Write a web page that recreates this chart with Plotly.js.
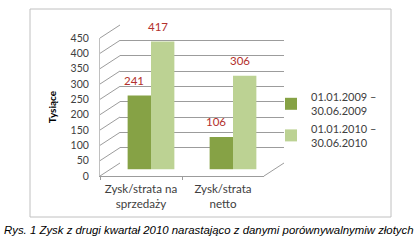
<!DOCTYPE html>
<html>
<head>
<meta charset="utf-8">
<script src="https://cdn.plot.ly/plotly-3.0.1.min.js"></script>
<style>html,body{margin:0;padding:0;background:#fff}#chart{width:418px;height:245px}</style>
</head>
<body>
<div id="chart"></div>
<script>
const categories = ['Zysk/strata na<br>sprzedaży', 'Zysk/strata<br>netto'];
const seriesNames = ['01.01.2009 –<br>30.06.2009', '01.01.2010 –<br>30.06.2010'];
const values2009 = [241, 106];
const values2010 = [417, 306];
const yTicks = [0, 50, 100, 150, 200, 250, 300, 350, 400, 450];
const yTitle = 'Tysiące';
const caption = 'Rys. 1 Zysk z drugi kwartał 2010 narastająco z danymi porównywalnymiw złotych';

const W = 418, H = 245;
const px = x => x / W;
const py = y => 1 - y / H;
const yMax = 450;
const FRONT_X0 = 100, FRONT_X1 = 264, FRONT_Y0 = 176, FRONT_Y1 = 38;
const DX = 20, DY = 13;
const font = 'Lato, "Open Sans", sans-serif';
const BARGAP = 0.43;
const labelColor = '#b3302c';

const traces = [
  {type: 'scatter', x: categories, y: categories.map(() => null), xaxis: 'x', yaxis: 'y',
   mode: 'markers', showlegend: false, hoverinfo: 'skip'},
  {type: 'scatter', x: [], y: [], xaxis: 'x2', yaxis: 'y2', showlegend: false, hoverinfo: 'skip'},
  {type: 'bar', name: seriesNames[0], x: categories, y: values2009, xaxis: 'x3', yaxis: 'y3',
   marker: {color: '#86a245'}, hoverinfo: 'skip'},
  {type: 'bar', name: seriesNames[1], x: categories, y: values2010, xaxis: 'x3', yaxis: 'y3',
   marker: {color: '#bcd293'}, hoverinfo: 'skip'}
];

// value labels placed on the bar axes (centre of each grouped bar)
const barW = (1 - BARGAP) / 2;
const annotations = [];
[values2009, values2010].forEach((vals, s) => {
  vals.forEach((v, i) => {
    annotations.push({xref: 'x3', yref: 'y3', x: i + (s - 0.5) * barW, y: v,
      text: String(v), showarrow: false, xanchor: 'center', yanchor: 'middle',
      yshift: 15, xshift: -5, font: {family: font, size: 11.5, color: labelColor}});
  });
});
annotations.push({text: caption, xref: 'paper', yref: 'paper', x: px(208.5), y: py(230),
  xanchor: 'center', yanchor: 'middle', showarrow: false,
  font: {family: '"Liberation Sans", Arial, sans-serif', size: 11.4, style: 'italic', color: '#000'}});

const gridColor = '#9c9c9c';
const shapes = [];
yTicks.forEach(v => {
  const f = (FRONT_Y0 - FRONT_Y1) * v / yMax;
  shapes.push({type: 'line', xref: 'paper', yref: 'paper',
    x0: px(FRONT_X0), y0: py(FRONT_Y0 - f), x1: px(FRONT_X0 + DX), y1: py(FRONT_Y0 - DY - f),
    line: {color: gridColor, width: 1}});
});
shapes.push({type: 'line', xref: 'paper', yref: 'paper',
  x0: px(FRONT_X1), y0: py(FRONT_Y0), x1: px(FRONT_X1 + DX), y1: py(FRONT_Y0 - DY),
  line: {color: gridColor, width: 1}});
shapes.push({type: 'rect', xref: 'paper', yref: 'paper',
  x0: px(30), y0: py(217), x1: px(391), y1: py(9), line: {color: '#c0c0c0', width: 1}});

const layout = {
  width: W, height: H,
  margin: {l: 0, r: 0, t: 0, b: 0},
  paper_bgcolor: '#fff', plot_bgcolor: 'rgba(0,0,0,0)',
  showlegend: true,
  barmode: 'group', bargap: BARGAP, bargroupgap: 0,
  font: {family: font, size: 10.5, color: '#404040'},
  xaxis: {domain: [px(FRONT_X0), px(FRONT_X1)], anchor: 'y', type: 'category',
    range: [-0.5, 1.5], tickson: 'boundaries', ticks: 'outside', ticklen: 3,
    tickcolor: gridColor, showline: true, linecolor: gridColor, showgrid: false, zeroline: false,
    tickfont: {family: font, size: 11.6, color: '#404040'}, ticklabelstandoff: 2},
  yaxis: {domain: [py(FRONT_Y0), py(FRONT_Y1)], anchor: 'x', range: [0, yMax],
    tickvals: yTicks, showgrid: false, zeroline: false, showline: true, linecolor: '#c0c0c0', ticks: '',
    ticklabelstandoff: 8, tickfont: {family: font, size: 10.5, color: '#404040'},
    title: {text: yTitle, font: {family: font, size: 10, color: '#000', weight: 'bold'}, standoff: 12}},
  xaxis2: {domain: [px(FRONT_X0 + DX), px(FRONT_X1 + DX)], anchor: 'y2', range: [0, 1],
    showgrid: false, zeroline: false, showline: false, showticklabels: false, ticks: ''},
  yaxis2: {domain: [py(FRONT_Y0 - DY), py(FRONT_Y1 - DY)], anchor: 'x2', range: [0, yMax],
    tickvals: yTicks, showgrid: true, gridcolor: gridColor, gridwidth: 1, zeroline: false,
    showline: false, showticklabels: false, ticks: ''},
  xaxis3: {domain: [px(FRONT_X0 + DX / 2), px(FRONT_X1 + DX / 2)], anchor: 'y3', type: 'category',
    range: [-0.5, 1.5], visible: false},
  yaxis3: {domain: [py(FRONT_Y0 - DY / 2), py(FRONT_Y1 - DY / 2)], anchor: 'x3', range: [0, yMax],
    visible: false},
  legend: {x: px(271), y: py(83), xanchor: 'left', yanchor: 'top', bgcolor: 'rgba(0,0,0,0)',
    font: {family: font, size: 11, color: '#404040'}, itemwidth: 30},
  shapes: shapes,
  annotations: annotations
};

Plotly.newPlot('chart', traces, layout, {staticPlot: true, displayModeBar: false});
</script>
</body>
</html>
